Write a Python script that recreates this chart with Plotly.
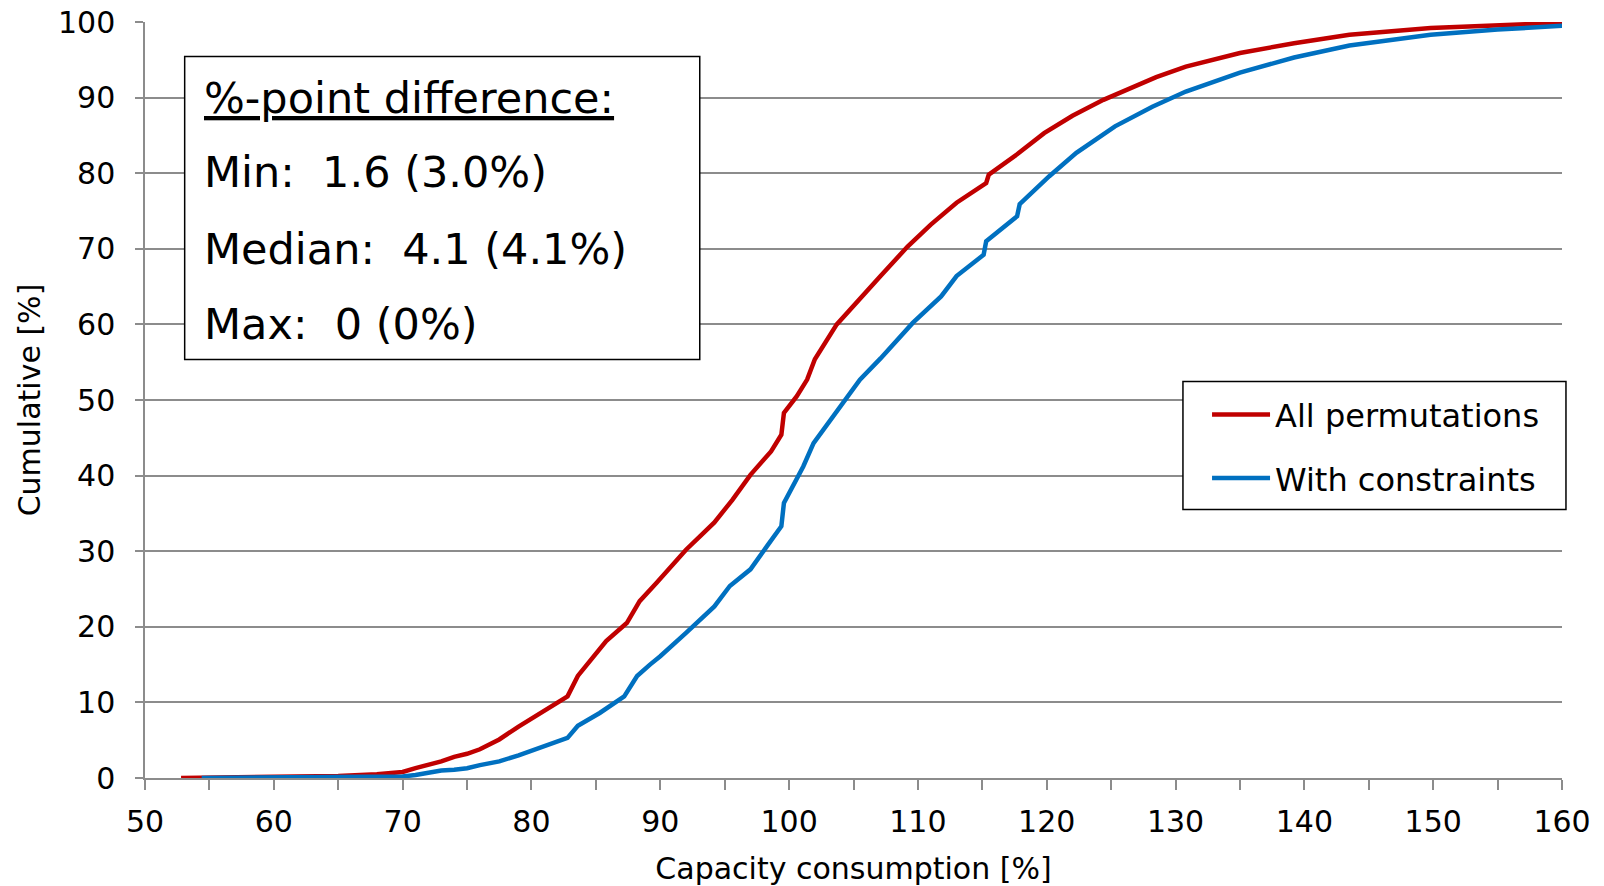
import plotly.graph_objects as go

# Cumulative distribution
red_x = [52.8, 55, 60, 65, 68, 70, 71, 72, 73, 74, 75, 76, 77.5, 79, 81.1, 82.8, 83.6, 84.2, 85.8, 87.4,
         88.4, 89.7, 92.0, 93.1, 94.2, 95.6, 97.0, 98.6, 99.4, 99.6, 100.6, 101.4, 102.0, 103.7, 105.4,
         107.1, 109.2, 111.0, 113.0, 115.3, 115.5, 117.7, 119.8, 122.0, 124.4, 126.6, 128.5, 130.8,
         135.0, 139.2, 143.5, 149.8, 155.0, 160.0]
red_y = [0, 0.02, 0.1, 0.25, 0.5, 0.8, 1.3, 1.7, 2.2, 2.8, 3.2, 3.8, 5.1, 6.8, 9.0, 10.8, 13.5, 14.8, 18.1,
         20.5, 23.4, 25.8, 30.2, 32.0, 33.8, 36.8, 40.1, 43.2, 45.4, 48.3, 50.5, 52.7, 55.4, 60.0, 63.3,
         66.4, 70.3, 73.2, 76.1, 78.7, 79.8, 82.5, 85.3, 87.6, 89.7, 91.3, 92.7, 94.1, 95.9, 97.2, 98.3,
         99.2, 99.6, 99.9]

blue_x = [54.4, 60, 65, 70, 71, 72, 73, 74, 75, 76, 77.5, 79, 81.1, 82.8, 83.6, 85.3, 87.2, 88.2, 89.2,
          90.0, 92.0, 93.1, 94.2, 95.4, 97.0, 98.3, 99.4, 99.6, 100.6, 101.1, 101.9, 103.6, 105.5, 107.1,
          109.6, 111.8, 113.0, 115.1, 115.3, 117.7, 117.9, 120.2, 122.3, 125.3, 128.2, 130.8, 135.0,
          139.2, 143.5, 149.8, 155.0, 160.0]
blue_y = [0, 0.02, 0.05, 0.2, 0.4, 0.7, 1.0, 1.1, 1.3, 1.7, 2.2, 3.0, 4.2, 5.3, 6.9, 8.6, 10.8, 13.5, 15.0,
          16.1, 19.2, 21.0, 22.7, 25.4, 27.6, 30.7, 33.3, 36.4, 39.5, 41.2, 44.3, 48.3, 52.7, 55.5, 60.2,
          63.7, 66.4, 69.2, 71.0, 74.3, 75.9, 79.6, 82.7, 86.2, 88.8, 90.8, 93.3, 95.3, 96.9, 98.3, 99.0,
          99.5]

series_names = ["All permutations", "With constraints"]
series_colors = ["#C00000", "#0070C0"]

box_lines = ["<u>%-point difference:</u>", "Min:  1.6 (3.0%)", "Median:  4.1 (4.1%)", "Max:  0 (0%)"]

FONT = "DejaVu Sans"
GRID = "#8C8C8C"

fig = go.Figure()
for i, (xs, ys) in enumerate([(red_x, red_y), (blue_x, blue_y)]):
    fig.add_trace(go.Scatter(x=xs, y=ys, mode="lines", name=series_names[i],
                             legendgroup=f"g{i}",
                             line=dict(color=series_colors[i], width=4.5)))

fig.update_layout(
    width=1604, height=886,
    margin=dict(l=145, r=42, t=22, b=108, autoexpand=False),
    paper_bgcolor="white", plot_bgcolor="white",
    font=dict(family=FONT, color="black", size=30),
    showlegend=True,
    legend=dict(x=0.7495, y=0.517, xanchor="left", yanchor="top",
                borderwidth=0, bgcolor="rgba(0,0,0,0)",
                font=dict(family=FONT, size=32), tracegroupgap=19,
                itemwidth=58),
)
fig.update_xaxes(range=[50, 160], dtick=10, tick0=50, showgrid=False, automargin=False,
                 showline=True, linecolor=GRID, linewidth=1.5,
                 ticks="outside", ticklen=10, tickcolor=GRID, tickwidth=1.5,
                 ticklabelstandoff=6,
                 minor=dict(dtick=5, ticks="outside", ticklen=10, tickcolor=GRID, tickwidth=1.5, showgrid=False),
                 tickfont=dict(family=FONT, size=30),
                 title=dict(text="Capacity consumption [%]", font=dict(family=FONT, size=30), standoff=21),
                 zeroline=False)
fig.update_yaxes(range=[0, 100], dtick=10, showgrid=True, gridcolor=GRID, gridwidth=1.5, automargin=False,
                 showline=True, linecolor=GRID, linewidth=1.5,
                 ticks="outside", ticklen=8, tickcolor=GRID, tickwidth=1.5,
                 ticklabelstandoff=14,
                 tickfont=dict(family=FONT, size=30),
                 title=dict(text="Cumulative [%]", font=dict(family=FONT, size=30), standoff=8),
                 zeroline=False)

# Legend frame
fig.add_shape(type="rect", xref="paper", yref="paper", x0=0.7325, x1=1.0028, y0=0.355, y1=0.5245,
              line=dict(color="black", width=1.5), fillcolor="white", layer="above")
# Text box
fig.add_shape(type="rect", xref="paper", yref="paper", x0=0.028, x1=0.3915, y0=0.5536, y1=0.9544,
              line=dict(color="black", width=1.5), fillcolor="white", layer="above")
for i, (txt, yy) in enumerate(zip(box_lines, [0.900, 0.801, 0.700, 0.600])):
    fig.add_annotation(xref="paper", yref="paper", x=0.040, y=yy, text=txt, showarrow=False,
                       xanchor="left", yanchor="middle", font=dict(family=FONT, size=43, color="black"))

fig.write_html("out.html")
